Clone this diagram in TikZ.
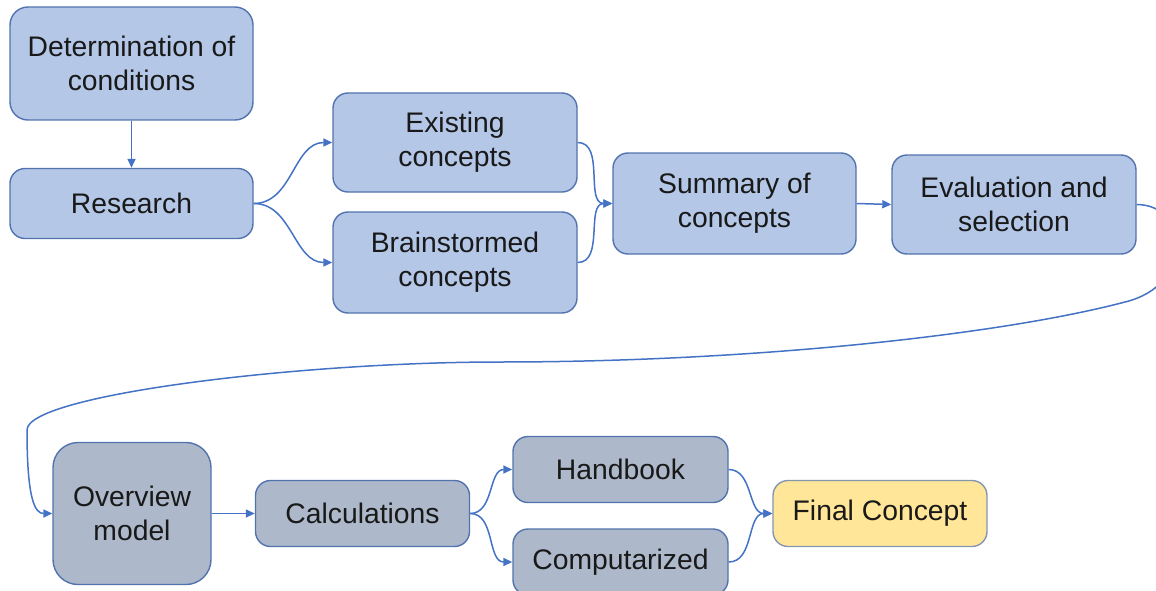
\documentclass[tikz,border=0pt]{standalone}
\usepackage{fontspec}
\setmainfont{Liberation Sans}
\usetikzlibrary{arrows.meta}
\definecolor{bfill}{HTML}{B4C7E7}
\definecolor{gfill}{HTML}{ADB9CA}
\definecolor{yfill}{HTML}{FFE699}
\definecolor{bdraw}{HTML}{5273AE}
\definecolor{ydraw}{HTML}{8497B0}
\definecolor{conn}{HTML}{4472C4}
\tikzset{
  box/.style={draw=bdraw, line width=1.4pt, rounded corners=15pt, inner sep=0pt, align=center,
    font=\fontsize{28.3}{34}\selectfont, text=black!90},
  bluebox/.style={box, fill=bfill},
  graybox/.style={box, fill=gfill},
  yellowbox/.style={box, fill=yfill, draw=ydraw},
  link/.style={draw=conn, line width=1.5pt, -{Triangle[length=9pt,width=8pt]}}
}
\begin{document}
\begin{tikzpicture}[x=1pt,y=-1pt]
\useasboundingbox (0,0) rectangle (1156,591);
\node[bluebox, minimum width=243pt, minimum height=113pt, rounded corners=18pt] (det) at (131.5,63.5) {Determination of\\conditions};
\node[bluebox, minimum width=243pt, minimum height=70pt] (res) at (131.5,203.5) {Research};
\node[bluebox, minimum width=244pt, minimum height=99pt] (exi) at (455,142.5) {Existing\\concepts};
\node[bluebox, minimum width=244pt, minimum height=101pt] (bra) at (455,262.5) {Brainstormed\\concepts};
\node[bluebox, minimum width=243pt, minimum height=101pt] (sum) at (734.5,203.5) {Summary of\\concepts};
\node[bluebox, minimum width=244pt, minimum height=99pt] (eva) at (1014,204.5) {Evaluation and\\selection};
\node[graybox, minimum width=158pt, minimum height=142pt, rounded corners=25pt] (ove) at (132,513.5) {Overview\\model};
\node[graybox, minimum width=214pt, minimum height=66pt] (cal) at (362.5,513.5) {Calculations};
\node[graybox, minimum width=215pt, minimum height=66pt] (han) at (620.5,469.5) {Handbook};
\node[graybox, minimum width=215pt, minimum height=66pt] (com) at (620.5,562) {Computarized};
\node[yellowbox, minimum width=214pt, minimum height=66pt] (fin) at (880,513.5) {Final Concept};

\draw[link] (det.south) -- (res.north);
\draw[link] (res.east) to[out=0,in=180] (exi.west);
\draw[link] (res.east) to[out=0,in=180] (bra.west);
\draw[link] (exi.east) to[out=0,in=180] (sum.west);
\draw[link] (bra.east) to[out=0,in=180] (sum.west);
\draw[link] (sum.east) -- (eva.west);
\coordinate (w1) at (1125,302);
\coordinate (w2) at (500,362);
\coordinate (w3) at (27,430);
\draw[link] (eva.east) .. controls (1190,205) and (1195,285) .. (w1)
  .. controls (1000,335) and (750,362) .. (w2)
  .. controls (300,362) and (27,395) .. (w3)
  .. controls (27,500) and (35,513.5) .. (ove.west);
\draw[link] (ove.east) -- (cal.west);
\draw[link] (cal.east) to[out=0,in=180] (han.west);
\draw[link] (cal.east) to[out=0,in=180] (com.west);
\draw[link] (han.east) to[out=0,in=180] (fin.west);
\draw[link] (com.east) to[out=0,in=180] (fin.west);
\end{tikzpicture}
\end{document}
